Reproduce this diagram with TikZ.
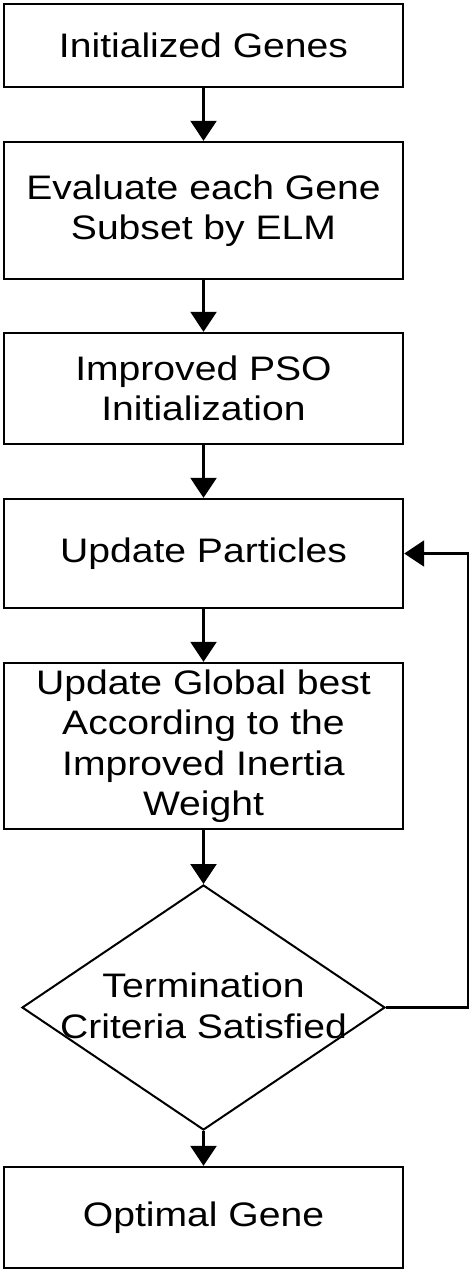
\documentclass[tikz,border=0pt]{standalone}
\usepackage{fontspec}
\setmainfont{Liberation Sans}[FakeStretch=1.15]
\usetikzlibrary{arrows.meta,shapes.geometric}
\tikzset{flowtip/.tip={Triangle[length=20pt,width=26pt]}}
\begin{document}
\begin{tikzpicture}[x=1pt,y=-1pt,
  procbox/.style={draw, line width=2.4pt, rectangle, inner sep=0pt, minimum width=399pt, align=center,
    font=\fontsize{34pt}{40.5pt}\selectfont},
  txt/.style={align=center, inner sep=0pt, font=\fontsize{34pt}{40.5pt}\selectfont},
  flow/.style={line width=2.4pt, -flowtip}]
\useasboundingbox (0,0) rectangle (472,1273);
\node[procbox, minimum height=83pt] (b1) at (203.5,45.5) {Initialized Genes};
\node[procbox, minimum height=137pt] (b2) at (203.5,210.5) {Evaluate each Gene\\Subset by ELM};
\node[procbox, minimum height=111pt] (b3) at (203.5,388.5) {Improved PSO\\Initialization};
\node[procbox, minimum height=109pt] (b4) at (203.5,553.5) {Update Particles};
\node[procbox, minimum height=166pt] (b5) at (203.5,746) {Update Global best\\According to the\\Improved Inertia\\Weight};
\node[draw, diamond, line width=2pt, inner sep=0pt, minimum width=363pt, minimum height=245pt] (dec) at (203.5,1007.5) {};
\node[txt] (dect) at (203.5,1006) {Termination\\Criteria Satisfied};
\node[procbox, minimum height=101pt] (b7) at (203.5,1217.5) {Optimal Gene};
\coordinate (fb) at (468,1007.5);
\draw[flow] (b1) -- (b2);
\draw[flow] (b2) -- (b3);
\draw[flow] (b3) -- (b4);
\draw[flow] (b4) -- (b5);
\draw[flow] (b5.south) -- (dec.north);
\draw[flow] (dec.south) -- (b7.north);
\draw[flow] (dec.east) -- (fb) |- (b4.east);
\end{tikzpicture}
\end{document}
